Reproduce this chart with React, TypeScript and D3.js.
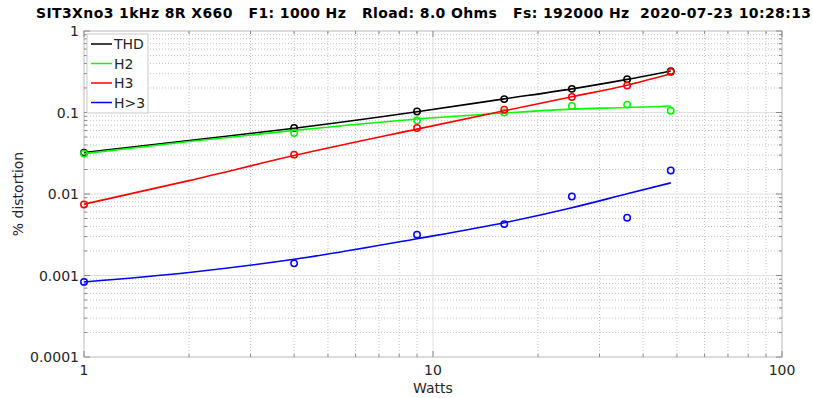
import React, { useEffect, useRef } from 'react'
import * as d3 from 'd3'

// measured points (Watts vs % distortion)
const watts = [1, 4, 9, 16, 25, 36, 48]
const thdPts = [0.0322, 0.0645, 0.103, 0.146, 0.195, 0.256, 0.321]
const h2Pts = [0.0313, 0.0561, 0.0799, 0.1, 0.12, 0.125, 0.105]
const h3Pts = [0.00744, 0.0304, 0.0645, 0.108, 0.155, 0.214, 0.315]
const hxPts = [0.000834, 0.00141, 0.00317, 0.00427, 0.00932, 0.00512, 0.0194]

// fitted curves
const fitWatts = [1, 2, 4, 9, 16, 25, 36, 48]
const thdFit = [0.0322, 0.0454, 0.064, 0.102, 0.147, 0.195, 0.255, 0.324]
const h2Fit = [0.0313, 0.044, 0.0603, 0.0832, 0.0985, 0.11, 0.115, 0.12]
const h3Fit = [0.0075, 0.0146, 0.0296, 0.0625, 0.105, 0.156, 0.216, 0.298]
const hxFit = [0.000834, 0.00109, 0.00158, 0.00283, 0.00444, 0.00678, 0.01005, 0.0137]

const seriesNames = ['THD', 'H2', 'H3', 'H>3']
const seriesColors = ['#000000', '#00ff00', '#ff0000', '#0000ff']
const xTicks = [1, 10, 100]
const yTicks = [0.0001, 0.001, 0.01, 0.1, 1]

const title =
  'SIT3Xno3 1kHz 8R X660   F1: 1000 Hz   Rload: 8.0 Ohms   Fs: 192000 Hz  2020-07-23 10:28:13'

export default function App() {
  const svgRef = useRef<SVGSVGElement>(null)

  useEffect(() => {
    if (!svgRef.current) return
    const svg = d3.select(svgRef.current)
    svg.selectAll('*').remove()

    const width = 813
    const height = 398
    const m = { left: 84, top: 31, right: 31, bottom: 41 }
    const x = d3.scaleLog().domain([1, 100]).range([m.left, width - m.right])
    const y = d3.scaleLog().domain([0.0001, 1]).range([height - m.bottom, m.top])
    const font = '"DejaVu Sans", sans-serif'

    svg.append('rect').attr('width', width).attr('height', height).attr('fill', '#fff')

    const [x0, x1] = x.range()
    const [y0, y1] = y.range()

    // minor grid
    const xMinor: number[] = []
    for (let d = 1; d < 100; d *= 10) for (let k = 2; k <= 9; k++) xMinor.push(d * k)
    const yMinor: number[] = []
    for (let d = 0.0001; d < 0.99; d *= 10) for (let k = 2; k <= 9; k++) yMinor.push(d * k)

    const grid = svg.append('g')
    grid
      .selectAll('.xm')
      .data(xMinor)
      .join('line')
      .attr('x1', (d) => x(d))
      .attr('x2', (d) => x(d))
      .attr('y1', y0)
      .attr('y2', y1)
      .attr('stroke', '#c4c4c4')
      .attr('stroke-dasharray', '1,2')
    grid
      .selectAll('.ym')
      .data(yMinor)
      .join('line')
      .attr('y1', (d) => y(d))
      .attr('y2', (d) => y(d))
      .attr('x1', x0)
      .attr('x2', x1)
      .attr('stroke', '#c4c4c4')
      .attr('stroke-dasharray', '1,2')
    grid
      .selectAll('.xM')
      .data(xTicks)
      .join('line')
      .attr('x1', (d) => x(d))
      .attr('x2', (d) => x(d))
      .attr('y1', y0)
      .attr('y2', y1)
      .attr('stroke', '#e0e0e0')
    grid
      .selectAll('.yM')
      .data(yTicks)
      .join('line')
      .attr('y1', (d) => y(d))
      .attr('y2', (d) => y(d))
      .attr('x1', x0)
      .attr('x2', x1)
      .attr('stroke', '#e0e0e0')

    // frame and inward ticks
    svg
      .append('rect')
      .attr('x', x0)
      .attr('y', y1)
      .attr('width', x1 - x0)
      .attr('height', y0 - y1)
      .attr('fill', 'none')
      .attr('stroke', '#c8c8c8')
    const ticks = svg.append('g').attr('stroke', '#8a8a8a')
    const tk = (major: boolean) => (major ? 6 : 3)
    ;[...xTicks.map((v) => [v, 1]), ...xMinor.map((v) => [v, 0])].forEach(([v, mj]) => {
      const px = x(v)
      ticks.append('line').attr('x1', px).attr('x2', px).attr('y1', y0).attr('y2', y0 - tk(!!mj))
      ticks.append('line').attr('x1', px).attr('x2', px).attr('y1', y1).attr('y2', y1 + tk(!!mj))
    })
    ;[...yTicks.map((v) => [v, 1]), ...yMinor.map((v) => [v, 0])].forEach(([v, mj]) => {
      const py = y(v)
      ticks.append('line').attr('y1', py).attr('y2', py).attr('x1', x0).attr('x2', x0 + tk(!!mj))
      ticks.append('line').attr('y1', py).attr('y2', py).attr('x1', x1).attr('x2', x1 - tk(!!mj))
    })

    // tick labels
    svg
      .append('g')
      .selectAll('text')
      .data(xTicks)
      .join('text')
      .attr('x', (d) => x(d))
      .attr('y', y0 + 18)
      .attr('text-anchor', 'middle')
      .style('font-family', font)
      .style('font-size', '14px')
      .style('fill', '#262626')
      .text((d) => String(d))
    svg
      .append('g')
      .selectAll('text')
      .data(yTicks)
      .join('text')
      .attr('x', x0 - 5)
      .attr('y', (d) => y(d) + 5)
      .attr('text-anchor', 'end')
      .style('font-family', font)
      .style('font-size', '14px')
      .style('fill', '#262626')
      .text((d) => String(d))

    svg
      .append('text')
      .attr('x', (x0 + x1) / 2)
      .attr('y', 393)
      .attr('text-anchor', 'middle')
      .style('font-family', font)
      .style('font-size', '14px')
      .style('fill', '#262626')
      .text('Watts')
    svg
      .append('text')
      .attr('transform', `translate(23,${(y0 + y1) / 2}) rotate(-90)`)
      .attr('text-anchor', 'middle')
      .style('font-family', font)
      .style('font-size', '14px')
      .style('fill', '#262626')
      .text('% distortion')

    svg
      .append('text')
      .attr('x', 36)
      .attr('y', 18)
      .attr('textLength', 775)
      .attr('lengthAdjust', 'spacing')
      .style('white-space', 'pre')
      .style('font-family', font)
      .style('font-size', '14px')
      .style('font-weight', 'bold')
      .style('fill', '#000')
      .text(title)

    // series
    const fits = [thdFit, h2Fit, h3Fit, hxFit]
    const pts = [thdPts, h2Pts, h3Pts, hxPts]
    const line = d3
      .line<[number, number]>()
      .x((d) => x(d[0]))
      .y((d) => y(d[1]))
      .curve(d3.curveMonotoneX)

    fits.forEach((f, i) => {
      svg
        .append('path')
        .datum(fitWatts.map((w, j) => [w, f[j]] as [number, number]))
        .attr('d', line)
        .attr('fill', 'none')
        .attr('stroke', seriesColors[i])
        .attr('stroke-width', 1.6)
      svg
        .append('g')
        .selectAll('circle')
        .data(watts.map((w, j) => [w, pts[i][j]]))
        .join('circle')
        .attr('cx', (d) => x(d[0]))
        .attr('cy', (d) => y(d[1]))
        .attr('r', 3.2)
        .attr('fill', 'none')
        .attr('stroke', seriesColors[i])
        .attr('stroke-width', 1.5)
    })

    // legend
    const lg = svg.append('g').attr('transform', `translate(${x0 + 3},${y1 + 3})`)
    lg.append('rect')
      .attr('width', 61)
      .attr('height', 79)
      .attr('fill', '#fff')
      .attr('stroke', '#c8c8c8')
    seriesNames.forEach((n, i) => {
      const cy = 10 + i * 19.5
      lg.append('line')
        .attr('x1', 4)
        .attr('x2', 25)
        .attr('y1', cy)
        .attr('y2', cy)
        .attr('stroke', seriesColors[i])
        .attr('stroke-width', 1.5)
      lg.append('text')
        .attr('x', 27)
        .attr('y', cy + 5)
        .style('font-family', font)
        .style('font-size', '14px')
        .style('fill', '#262626')
        .text(n)
    })
  }, [])

  return (
    <svg
      ref={svgRef}
      width={813}
      height={398}
      style={{ position: 'absolute', left: 0, top: 0 }}
    />
  )
}
